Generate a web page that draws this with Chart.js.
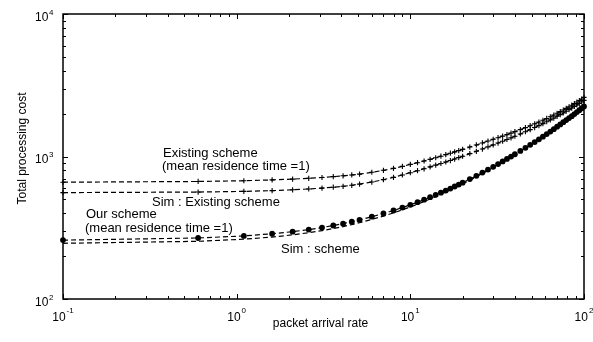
<!DOCTYPE html>
<html>
<head>
<meta charset="utf-8">
<script src="https://cdn.jsdelivr.net/npm/chart.js@4.4.0/dist/chart.umd.min.js"></script>
<style>
html,body{margin:0;padding:0;background:#fff;}
#wrap{width:593px;height:342px;position:relative;}
</style>
</head>
<body>
<div id="wrap"><canvas id="c" width="593" height="342"></canvas></div>
<script>
// packet arrival rate
const arrivalRate = [0.1,0.6,1.1,1.6,2.1,2.6,3.1,3.6,4.1,4.6,5.1,6,7,8,9,10,11,12,13,14,15,16,17,18,19,20,22,24,26,28,30,32,34,36,38,40,43,46,49,52,55,58,61,64,67,70,73,76,79,82,85,88,91,94,97,100];
// Existing scheme (mean residence time = 1)
const existingScheme = [660,668,676,685,694,703,712,722,732,742,752,775,800,825,852,880,905,930,955,980,1005,1030,1055,1078,1100,1122,1165,1205,1245,1285,1320,1355,1390,1425,1460,1495,1545,1595,1645,1695,1745,1795,1850,1900,1955,2010,2065,2120,2175,2235,2290,2350,2410,2470,2530,2600];
// Sim : Existing scheme
const simExisting = [558,563,569,576,584,592,600,609,618,628,640,662,688,714,742,770,795,820,845,870,893,915,937,960,982,1004,1047,1088,1128,1168,1206,1243,1280,1316,1352,1388,1440,1492,1544,1596,1648,1700,1753,1806,1860,1914,1968,2022,2077,2132,2188,2244,2300,2358,2416,2475];
// Our scheme (mean residence time = 1)
const ourScheme = [259,268,277,287,297,307,317,328,338,349,359,378,398,418,438,458,478,498,518,538,557,577,596,616,635,655,694,732,771,809,847,885,923,961,999,1037,1094,1150,1207,1263,1320,1378,1436,1496,1556,1618,1680,1740,1800,1860,1920,1985,2050,2115,2180,2245];
// Sim : scheme
const simScheme = [246,254,263,272,282,292,302,312,322,333,343,362,382,402,423,443,463,483,503,523,543,563,583,603,622,642,681,720,759,798,836,874,913,951,989,1027,1084,1141,1198,1255,1312,1370,1428,1487,1546,1606,1666,1726,1786,1847,1908,1970,2033,2096,2160,2225];

const xTickExponents = [-1,0,1,2];
const yTickExponents = [2,3,4];
const xTitle = "packet arrival rate";
const yTitle = "Total processing cost";
const annotationTexts = ["Existing scheme","(mean residence time =1)","Sim : Existing scheme","Our scheme","(mean residence time =1)","Sim : scheme"];

function pts(ys){ return arrivalRate.map((x,i)=>({x:x,y:ys[i]})); }

const FONT = '"Liberation Sans", Arial, Helvetica, sans-serif';

const framePlugin = {
  id:'frame',
  afterDatasetsDraw(chart){
    const ctx = chart.ctx, a = chart.chartArea, xs = chart.scales.x, ys = chart.scales.y;
    ctx.save();
    ctx.strokeStyle = '#000';
    ctx.fillStyle = '#000';
    ctx.lineWidth = 1.5;
    ctx.strokeRect(a.left, a.top, a.right - a.left, a.bottom - a.top);
    ctx.lineWidth = 1;
    function seg(x1,y1,x2,y2){ ctx.beginPath(); ctx.moveTo(x1,y1); ctx.lineTo(x2,y2); ctx.stroke(); }
    for (let d = xTickExponents[0]; d <= xTickExponents[xTickExponents.length-1]; d++){
      for (let m = 1; m <= 9; m++){
        const v = m*Math.pow(10,d);
        if (v > xs.max*1.0001) continue;
        const px = Math.round(xs.getPixelForValue(v)) + 0.5;
        const len = m === 1 ? 5 : 3;
        seg(px, a.bottom, px, a.bottom - len);
        seg(px, a.top, px, a.top + len);
      }
    }
    for (let d = yTickExponents[0]; d <= yTickExponents[yTickExponents.length-1]; d++){
      for (let m = 1; m <= 9; m++){
        const v = m*Math.pow(10,d);
        if (v > ys.max*1.0001) continue;
        const py = Math.round(ys.getPixelForValue(v)) + 0.5;
        const len = m === 1 ? 5 : 3;
        seg(a.left, py, a.left + len, py);
        seg(a.right, py, a.right - len, py);
      }
    }
    ctx.textBaseline = 'middle';
    ctx.textAlign = 'left';
    xTickExponents.forEach(e => {
      const px = xs.getPixelForValue(Math.pow(10,e));
      ctx.font = '12px ' + FONT;
      const w10 = ctx.measureText('10').width;
      ctx.font = '8px ' + FONT;
      const es = String(e);
      const we = ctx.measureText(es).width;
      const start = px - (w10 + 1 + we)/2;
      ctx.font = '12px ' + FONT;
      ctx.fillText('10', start, a.bottom + 19);
      ctx.font = '8px ' + FONT;
      ctx.fillText(es, start + w10 + 1, a.bottom + 12);
    });
    yTickExponents.forEach(e => {
      const py = ys.getPixelForValue(Math.pow(10,e));
      ctx.font = '12px ' + FONT;
      ctx.fillText('10', a.left - 28, py + 3.5);
      ctx.font = '8px ' + FONT;
      ctx.fillText(String(e), a.left - 14, py - 1.5);
    });
    ctx.font = '12px ' + FONT;
    ctx.textAlign = 'center';
    ctx.fillText(xTitle, (a.left + a.right)/2 - 3, a.bottom + 25);
    ctx.save();
    ctx.translate(23, 148.5);
    ctx.rotate(-Math.PI/2);
    ctx.font = '12px ' + FONT;
    ctx.fillText(yTitle, 0, 0);
    ctx.restore();
    ctx.font = '13px ' + FONT;
    ctx.textAlign = 'left';
    const pos = [[163,153],[162,166],[152,202],[86,214],[85,228],[281,249]];
    annotationTexts.forEach((t,i) => ctx.fillText(t, pos[i][0], pos[i][1]));
    ctx.restore();
  }
};

const common = {borderColor:'#000', borderWidth:1.2, borderDash:[5,3], fill:false, tension:0, clip:false,
  pointBorderColor:'#000', pointBackgroundColor:'#000'};

new Chart(document.getElementById('c'), {
  type:'line',
  data:{
    datasets:[
      Object.assign({label:'Existing scheme', data:pts(existingScheme), pointStyle:'cross', pointRadius:2.6, pointBorderWidth:1.1}, common),
      Object.assign({label:'Sim : Existing scheme', data:pts(simExisting), pointStyle:'cross', pointRadius:2.6, pointBorderWidth:1.1}, common),
      Object.assign({label:'Our scheme', data:pts(ourScheme), pointStyle:'circle', pointRadius:2.9, pointBorderWidth:0}, common),
      Object.assign({label:'Sim : scheme', data:pts(simScheme), pointRadius:0}, common)
    ]
  },
  options:{
    responsive:false,
    animation:false,
    devicePixelRatio:1,
    layout:{padding:{left:63, top:14, right:9, bottom:43}},
    plugins:{legend:{display:false}, tooltip:{enabled:false}, title:{display:false}},
    scales:{
      x:{type:'logarithmic', min:0.1, max:100, display:false},
      y:{type:'logarithmic', min:100, max:10000, display:false}
    }
  },
  plugins:[framePlugin]
});
</script>
</body>
</html>
